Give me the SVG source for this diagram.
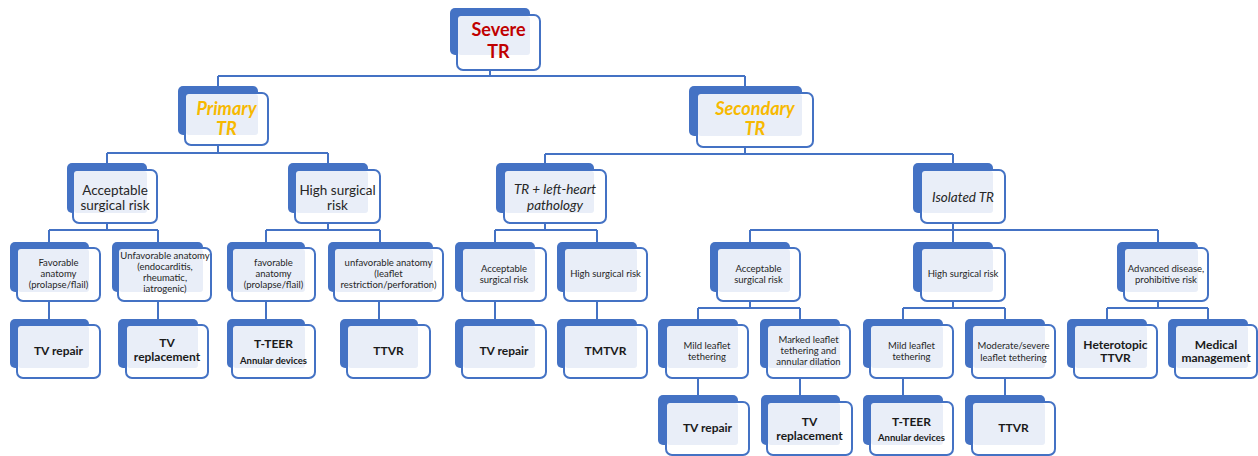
<svg xmlns="http://www.w3.org/2000/svg" width="1258" height="456" viewBox="0 0 1258 456">
<style>
.b{fill:#4472c4}
.f{fill:#fff;stroke:#4472c4;stroke-width:2}
.l{fill:#e9eef8}
.c{fill:none;stroke:#4472c4;stroke-width:2}
text{font-family:Lato,"Liberation Sans",sans-serif;text-anchor:middle;fill:#262626}
.t1{font-size:18px;font-weight:bold;fill:#c00000}
.t2{font-size:18px;font-weight:bold;font-style:italic;fill:#f7b900}
.t3{font-size:13.5px}
.t3i{font-size:13.5px;font-style:italic}
.t4{font-size:9.5px}
.t5{font-size:12px;font-weight:bold;fill:#1a1a1a}
.t5s{font-size:9.5px;font-weight:bold;fill:#1a1a1a}
</style>
<rect width="1258" height="456" fill="#fff"/>
<g id="connectors">
<path class="c" d="M490 70V76M218 76H745M218 76V86M745 76V86
M218 145V153M107 153H328M107 153V163M328 153V163
M745 147V154M545 154H953M545 154V163M953 154V163
M107 223V230M49 230H158M49 230V242M158 230V242
M328 223V230M266 230H380M266 230V242M380 230V242
M545 223V230M495 230H597M495 230V242M597 230V242
M953 223V230M750 230H1158M750 230V242M953 230V242M1158 230V242
M49 301V319M158 301V319M266 301V319M379 301V319M495 301V319M597 301V319
M750 301V308M698 308H800M698 308V319M800 308V319
M953 301V308M903 308H1005M903 308V319M1005 308V319
M1158 301V308M1107 308H1208M1107 308V319M1208 308V319
M698 378V395M800 378V395M903 378V395M1005 378V395"/>
</g>
<g id="n-root"><rect class="b" x="450" y="8" width="80" height="47" rx="5"/><rect class="f" x="457" y="15" width="83" height="55" rx="6"/><rect class="l" x="458" y="16" width="72" height="39" rx="3"/>
<text class="t1" x="498.5" y="36">Severe</text><text class="t1" x="498.5" y="58">TR</text></g>
<g id="n-primary"><rect class="b" x="178" y="86" width="80" height="49" rx="5"/><rect class="f" x="185" y="93" width="83" height="52" rx="6"/><rect class="l" x="186" y="94" width="72" height="41" rx="3"/>
<text class="t2" x="226.5" y="115">Primary</text><text class="t2" x="226.5" y="135">TR</text></g>
<g id="n-secondary"><rect class="b" x="689" y="86" width="113" height="50" rx="5"/><rect class="f" x="697" y="93" width="116" height="54" rx="6"/><rect class="l" x="698" y="94" width="104" height="42" rx="3"/>
<text class="t2" x="755" y="115">Secondary</text><text class="t2" x="755" y="135">TR</text></g>

<g id="n-acc1"><rect class="b" x="67" y="163" width="80" height="50" rx="5"/><rect class="f" x="73" y="170" width="84" height="53" rx="6"/><rect class="l" x="74" y="171" width="73" height="42" rx="3"/>
<text class="t3" x="115" y="195">Acceptable</text><text class="t3" x="115" y="210">surgical risk</text></g>
<g id="n-high1"><rect class="b" x="288" y="163" width="80" height="50" rx="5"/><rect class="f" x="295" y="170" width="85" height="53" rx="6"/><rect class="l" x="296" y="171" width="72" height="42" rx="3"/>
<text class="t3" x="337.5" y="195">High surgical</text><text class="t3" x="337.5" y="210">risk</text></g>
<g id="n-trlh"><rect class="b" x="496" y="163" width="98" height="50" rx="5"/><rect class="f" x="504" y="170" width="102" height="53" rx="6"/><rect class="l" x="505" y="171" width="89" height="42" rx="3"/>
<text class="t3i" x="555" y="194">TR + left-heart</text><text class="t3i" x="555" y="210">pathology</text></g>
<g id="n-iso"><rect class="b" x="913" y="163" width="80" height="50" rx="5"/><rect class="f" x="921" y="170" width="84" height="53" rx="6"/><rect class="l" x="922" y="171" width="71" height="42" rx="3"/>
<text class="t3i" x="963" y="202">Isolated TR</text></g>

<g id="n-fav1"><rect class="b" x="10" y="242" width="79" height="50" rx="5"/><rect class="f" x="17" y="248" width="83" height="53" rx="6"/><rect class="l" x="18" y="249" width="71" height="43" rx="3"/>
<text class="t4" x="58.5" y="266">Favorable</text><text class="t4" x="58.5" y="277">anatomy</text><text class="t4" x="58.5" y="288">(prolapse/flail)</text></g>
<g id="n-unfav1"><rect class="b" x="112" y="242" width="91" height="50" rx="5"/><rect class="f" x="118" y="248" width="93" height="53" rx="6"/><rect class="l" x="119" y="249" width="84" height="43" rx="3"/>
<text class="t4" x="165" y="259">Unfavorable anatomy</text><text class="t4" x="165" y="270">(endocarditis,</text><text class="t4" x="165" y="281">rheumatic,</text><text class="t4" x="165" y="292">iatrogenic)</text></g>
<g id="n-fav2"><rect class="b" x="227" y="242" width="78" height="50" rx="5"/><rect class="f" x="232" y="248" width="83" height="53" rx="6"/><rect class="l" x="233" y="249" width="72" height="43" rx="3"/>
<text class="t4" x="273.5" y="266">favorable</text><text class="t4" x="273.5" y="277">anatomy</text><text class="t4" x="273.5" y="288">(prolapse/flail)</text></g>
<g id="n-unfav2"><rect class="b" x="328" y="242" width="105" height="50" rx="5"/><rect class="f" x="334" y="248" width="109" height="53" rx="6"/><rect class="l" x="335" y="249" width="98" height="43" rx="3"/>
<text class="t4" x="388.5" y="266">unfavorable anatomy</text><text class="t4" x="388.5" y="277">(leaflet</text><text class="t4" x="388.5" y="288">restriction/perforation)</text></g>
<g id="n-acc2"><rect class="b" x="455" y="242" width="80" height="50" rx="5"/><rect class="f" x="462" y="248" width="84" height="53" rx="6"/><rect class="l" x="463" y="249" width="72" height="43" rx="3"/>
<text class="t4" x="504" y="272">Acceptable</text><text class="t4" x="504" y="283">surgical risk</text></g>
<g id="n-high2"><rect class="b" x="557" y="242" width="80" height="50" rx="5"/><rect class="f" x="564" y="248" width="83" height="53" rx="6"/><rect class="l" x="565" y="249" width="72" height="43" rx="3"/>
<text class="t4" x="605.5" y="277">High surgical risk</text></g>
<g id="n-acc3"><rect class="b" x="710" y="242" width="80" height="50" rx="5"/><rect class="f" x="717" y="248" width="83" height="53" rx="6"/><rect class="l" x="718" y="249" width="72" height="43" rx="3"/>
<text class="t4" x="758.5" y="272">Acceptable</text><text class="t4" x="758.5" y="283">surgical risk</text></g>
<g id="n-high3"><rect class="b" x="913" y="242" width="80" height="50" rx="5"/><rect class="f" x="921" y="248" width="84" height="53" rx="6"/><rect class="l" x="922" y="249" width="71" height="43" rx="3"/>
<text class="t4" x="963" y="277">High surgical risk</text></g>
<g id="n-adv"><rect class="b" x="1117" y="242" width="81" height="50" rx="5"/><rect class="f" x="1124" y="248" width="84" height="53" rx="6"/><rect class="l" x="1125" y="249" width="73" height="43" rx="3"/>
<text class="t4" x="1166" y="272">Advanced disease,</text><text class="t4" x="1166" y="283">prohibitive risk</text></g>

<g id="n-rep1"><rect class="b" x="10" y="319" width="79" height="49" rx="5"/><rect class="f" x="17" y="325" width="83" height="53" rx="6"/><rect class="l" x="18" y="326" width="71" height="42" rx="3"/>
<text class="t5" x="58.5" y="355">TV repair</text></g>
<g id="n-repl1"><rect class="b" x="118" y="319" width="80" height="49" rx="5"/><rect class="f" x="126" y="325" width="82" height="53" rx="6"/><rect class="l" x="127" y="326" width="71" height="42" rx="3"/>
<text class="t5" x="167" y="347">TV</text><text class="t5" x="167" y="361">replacement</text></g>
<g id="n-teer1"><rect class="b" x="227" y="319" width="78" height="49" rx="5"/><rect class="f" x="232" y="325" width="83" height="53" rx="6"/><rect class="l" x="233" y="326" width="72" height="42" rx="3"/>
<text class="t5" x="273.5" y="348">T-TEER</text><text class="t5s" x="273.5" y="364">Annular devices</text></g>
<g id="n-ttvr1"><rect class="b" x="340" y="319" width="78" height="49" rx="5"/><rect class="f" x="347" y="325" width="83" height="53" rx="6"/><rect class="l" x="348" y="326" width="70" height="42" rx="3"/>
<text class="t5" x="388.5" y="355">TTVR</text></g>
<g id="n-rep2"><rect class="b" x="455" y="319" width="80" height="49" rx="5"/><rect class="f" x="462" y="325" width="84" height="53" rx="6"/><rect class="l" x="463" y="326" width="72" height="42" rx="3"/>
<text class="t5" x="504" y="355">TV repair</text></g>
<g id="n-tmtvr"><rect class="b" x="557" y="319" width="80" height="49" rx="5"/><rect class="f" x="564" y="325" width="83" height="53" rx="6"/><rect class="l" x="565" y="326" width="72" height="42" rx="3"/>
<text class="t5" x="605.5" y="355">TMTVR</text></g>
<g id="n-mild1"><rect class="b" x="658" y="319" width="80" height="49" rx="5"/><rect class="f" x="666" y="325" width="82" height="53" rx="6"/><rect class="l" x="667" y="326" width="71" height="42" rx="3"/>
<text class="t4" x="707" y="349">Mild leaflet</text><text class="t4" x="707" y="360">tethering</text></g>
<g id="n-marked"><rect class="b" x="760" y="319" width="80" height="49" rx="5"/><rect class="f" x="767" y="325" width="83" height="53" rx="6"/><rect class="l" x="768" y="326" width="72" height="42" rx="3"/>
<text class="t4" x="808.5" y="343">Marked leaflet</text><text class="t4" x="808.5" y="354">tethering and</text><text class="t4" x="808.5" y="365">annular dilation</text></g>
<g id="n-mild2"><rect class="b" x="863" y="319" width="80" height="49" rx="5"/><rect class="f" x="870" y="325" width="83" height="53" rx="6"/><rect class="l" x="871" y="326" width="72" height="42" rx="3"/>
<text class="t4" x="911.5" y="349">Mild leaflet</text><text class="t4" x="911.5" y="360">tethering</text></g>
<g id="n-mod"><rect class="b" x="965" y="319" width="80" height="49" rx="5"/><rect class="f" x="972" y="325" width="83" height="53" rx="6"/><rect class="l" x="973" y="326" width="72" height="42" rx="3"/>
<text class="t4" x="1013.5" y="349">Moderate/severe</text><text class="t4" x="1013.5" y="361">leaflet tethering</text></g>
<g id="n-het"><rect class="b" x="1067" y="319" width="80" height="49" rx="5"/><rect class="f" x="1074" y="325" width="83" height="53" rx="6"/><rect class="l" x="1075" y="326" width="72" height="42" rx="3"/>
<text class="t5" x="1115.5" y="349">Heterotopic</text><text class="t5" x="1115.5" y="362">TTVR</text></g>
<g id="n-med"><rect class="b" x="1168" y="319" width="80" height="49" rx="5"/><rect class="f" x="1175" y="325" width="82" height="53" rx="6"/><rect class="l" x="1176" y="326" width="72" height="42" rx="3"/>
<text class="t5" x="1216" y="349">Medical</text><text class="t5" x="1216" y="362">management</text></g>

<g id="n-rep3"><rect class="b" x="658" y="395" width="80" height="50" rx="5"/><rect class="f" x="666" y="402" width="83" height="53" rx="6"/><rect class="l" x="667" y="403" width="71" height="42" rx="3"/>
<text class="t5" x="707.5" y="432">TV repair</text></g>
<g id="n-repl2"><rect class="b" x="761" y="395" width="79" height="50" rx="5"/><rect class="f" x="767" y="402" width="85" height="53" rx="6"/><rect class="l" x="768" y="403" width="72" height="42" rx="3"/>
<text class="t5" x="809.5" y="426">TV</text><text class="t5" x="809.5" y="440">replacement</text></g>
<g id="n-teer2"><rect class="b" x="863" y="395" width="80" height="50" rx="5"/><rect class="f" x="870" y="402" width="83" height="53" rx="6"/><rect class="l" x="871" y="403" width="72" height="42" rx="3"/>
<text class="t5" x="911.5" y="426">T-TEER</text><text class="t5s" x="911.5" y="441">Annular devices</text></g>
<g id="n-ttvr2"><rect class="b" x="965" y="395" width="80" height="50" rx="5"/><rect class="f" x="972" y="402" width="83" height="53" rx="6"/><rect class="l" x="973" y="403" width="72" height="42" rx="3"/>
<text class="t5" x="1013.5" y="432">TTVR</text></g>
</svg>
